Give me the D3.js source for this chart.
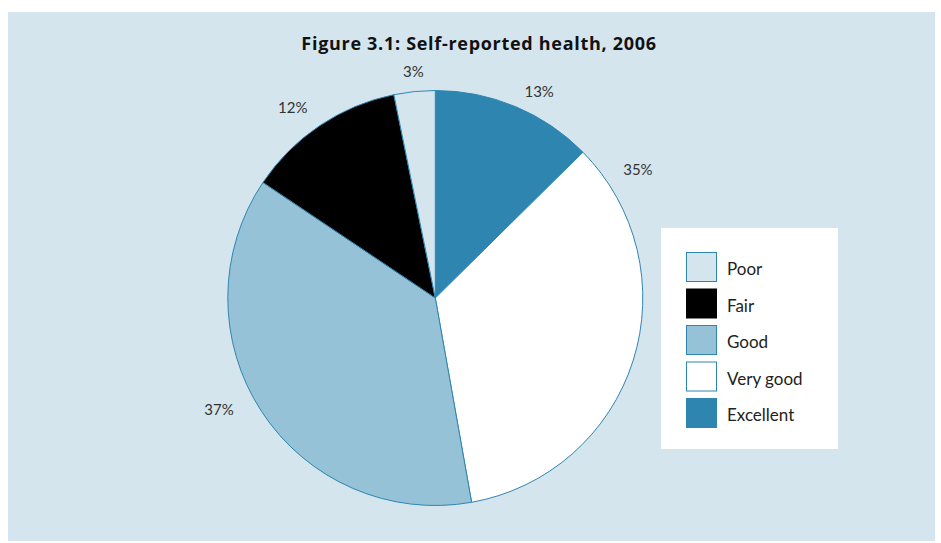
<!DOCTYPE html>
<html>
<head>
<meta charset="utf-8">
<script src="https://cdn.jsdelivr.net/npm/d3@7"></script>
<style>
  html, body { margin: 0; padding: 0; background: #ffffff; }
  svg { display: block; }
</style>
</head>
<body>
<svg id="chart" width="941" height="543"></svg>
<script>
// ---- Data ----
const title = "Figure 3.1: Self-reported health, 2006";
const categories = ["Excellent", "Very good", "Good", "Fair", "Poor"];
const values = [12.6, 34.6, 37.2, 12.4, 3.2];
const valueLabels = ["13%", "35%", "37%", "12%", "3%"];
const legendOrder = ["Poor", "Fair", "Good", "Very good", "Excellent"];

// ---- Style / layout ----
const colors = {
  "Excellent": "#2e86b0",
  "Very good": "#ffffff",
  "Good": "#96c2d7",
  "Fair": "#000000",
  "Poor": "#d5e5ee"
};
const bg = "#d5e5ee";
const edge = "#2e86b0";
// label placement (angle in degrees clockwise from 12 o'clock, distance from centre)
const labelAngle = [26.6, 57.6, 242.9, 323.2, 354.5];
const labelDist = [232, 240, 243, 238, 228];

const svg = d3.select("#chart");
svg.append("rect").attr("x", 8).attr("y", 12).attr("width", 927).attr("height", 529).attr("fill", bg);

svg.append("text")
  .attr("x", 479).attr("y", 50)
  .attr("text-anchor", "middle")
  .attr("font-family", "'Open Sans', sans-serif")
  .attr("font-weight", "bold")
  .attr("font-size", 18)
  .attr("letter-spacing", 0.7)
  .attr("fill", "#111")
  .text(title);

const cx = 435.3, cy = 298, r = 207.5;
const g = svg.append("g").attr("transform", `translate(${cx},${cy})`);

const pie = d3.pie().sort(null).value(d => d.v);
const data = categories.map((c, i) => ({ c, v: values[i], i }));
const arcs = pie(data);
const arc = d3.arc().innerRadius(0).outerRadius(r);

g.selectAll("path.slice").data(arcs).enter().append("path")
  .attr("class", "slice")
  .attr("d", arc)
  .attr("fill", d => colors[d.data.c])
  .attr("stroke", edge)
  .attr("stroke-width", 1)
  .attr("stroke-linejoin", "round");

g.selectAll("text.lbl").data(arcs).enter().append("text")
  .attr("class", "lbl")
  .attr("x", d => labelDist[d.data.i] * Math.sin(labelAngle[d.data.i] * Math.PI / 180))
  .attr("y", d => -labelDist[d.data.i] * Math.cos(labelAngle[d.data.i] * Math.PI / 180))
  .attr("text-anchor", "middle")
  .attr("dominant-baseline", "central")
  .attr("font-family", "Lato, 'Open Sans', sans-serif")
  .attr("font-size", 15)
  .attr("fill", "#333")
  .text(d => valueLabels[d.data.i]);

// ---- Legend ----
const lg = svg.append("g");
lg.append("rect").attr("x", 661).attr("y", 228).attr("width", 177).attr("height", 221).attr("fill", "#ffffff");
const ly = d3.scalePoint().domain(legendOrder).range([252, 398]);
const items = lg.selectAll("g.item").data(legendOrder).enter().append("g")
  .attr("class", "item")
  .attr("transform", d => `translate(686,${ly(d)})`);
items.append("rect")
  .attr("x", 0.5).attr("y", 0.5).attr("width", 30).attr("height", 29)
  .attr("fill", d => colors[d])
  .attr("stroke", d => d === "Fair" ? "#000" : edge)
  .attr("stroke-width", 1);
items.append("text")
  .attr("x", 41).attr("y", 16.5)
  .attr("dominant-baseline", "central")
  .attr("font-family", "Lato, 'Open Sans', sans-serif")
  .attr("font-size", 17)
  .attr("fill", "#222")
  .text(d => d);
</script>
</body>
</html>
